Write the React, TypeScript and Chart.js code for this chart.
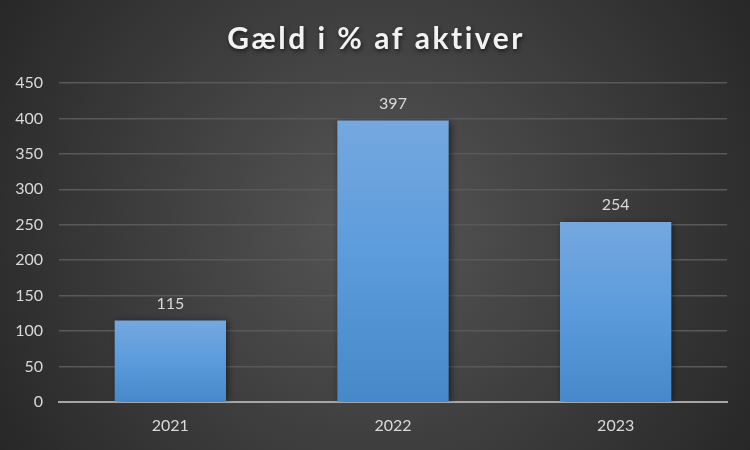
import React, { useEffect, useRef } from "react";
import { Chart, registerables } from "chart.js";

Chart.register(...registerables);

const TITLE = "Gæld i % af aktiver";
const categories = ["2021", "2022", "2023"];
const values = [115, 397, 254];
const yTicks = [0, 50, 100, 150, 200, 250, 300, 350, 400, 450];

const FONT = "Lato, 'Liberation Sans', sans-serif";

const bgPlugin = {
  id: "bg",
  beforeDraw(chart: any) {
    const { ctx, width, height } = chart;
    ctx.save();
    const g = ctx.createRadialGradient(width / 2, height / 2, 0, width / 2, height / 2, width * 0.6);
    g.addColorStop(0, "#565656");
    g.addColorStop(1, "#262626");
    ctx.fillStyle = g;
    ctx.fillRect(0, 0, width, height);
    ctx.restore();
  },
};

const titlePlugin = {
  id: "customTitle",
  afterDraw(chart: any) {
    const { ctx, width } = chart;
    ctx.save();
    ctx.font = `bold 30px ${FONT}`;
    (ctx as any).letterSpacing = "2.5px";
    ctx.fillStyle = "#f2f2f2";
    ctx.textAlign = "center";
    ctx.textBaseline = "middle";
    ctx.shadowColor = "rgba(0,0,0,0.6)";
    ctx.shadowBlur = 4;
    ctx.shadowOffsetX = 1;
    ctx.shadowOffsetY = 2;
    ctx.fillText(TITLE, width / 2 + 1, 39);
    ctx.restore();
  },
};

const shadowPlugin = {
  id: "barShadow",
  beforeDatasetsDraw(chart: any) {
    const ctx = chart.ctx;
    ctx.save();
    ctx.shadowColor = "rgba(0,0,0,0.55)";
    ctx.shadowBlur = 7;
    ctx.shadowOffsetX = 2;
    ctx.shadowOffsetY = 1;
  },
  afterDatasetsDraw(chart: any) {
    chart.ctx.restore();
  },
};

const labelPlugin = {
  id: "valueLabels",
  afterDatasetsDraw(chart: any) {
    const { ctx } = chart;
    const meta = chart.getDatasetMeta(0);
    ctx.save();
    ctx.font = `16px ${FONT}`;
    ctx.fillStyle = "#d9d9d9";
    ctx.textAlign = "center";
    ctx.textBaseline = "bottom";
    meta.data.forEach((el: any, i: number) => {
      ctx.fillText(String(values[i]), el.x, el.y - 9);
    });
    ctx.restore();
  },
};

export default function App() {
  const ref = useRef<HTMLCanvasElement>(null);
  useEffect(() => {
    if (!ref.current) return;
    const chart = new Chart(ref.current, {
      type: "bar",
      data: {
        labels: categories,
        datasets: [
          {
            data: values,
            backgroundColor: (c: any) => {
              const chart = c.chart;
              const ys = chart.scales?.y;
              if (!ys || c.dataIndex === undefined) return "#5b9bd5";
              const top = ys.getPixelForValue(values[c.dataIndex]);
              const bot = ys.getPixelForValue(0);
              if (!isFinite(top) || !isFinite(bot) || top === bot) return "#5b9bd5";
              const g = chart.ctx.createLinearGradient(0, top, 0, bot);
              g.addColorStop(0, "#74a8df");
              g.addColorStop(0.5, "#5b9bdc");
              g.addColorStop(1, "#4788c8");
              return g;
            },
            borderWidth: 0,
            barPercentage: 0.5,
            categoryPercentage: 1,
          },
        ],
      },
      options: {
        animation: false,
        responsive: false,
        maintainAspectRatio: false,
        layout: { padding: { top: 83, right: 23, left: 0, bottom: 0 } },
        plugins: {
          legend: { display: false },
          title: { display: false },
          tooltip: { enabled: false },
        },
        scales: {
          x: {
            grid: { display: false, drawTicks: false },
            border: { color: "#a6a6a6", width: 2 },
            ticks: { color: "#d9d9d9", font: { family: FONT, size: 16 }, padding: 14 },
            afterFit: (s: any) => {
              s.height = 48;
            },
          },
          y: {
            min: 0,
            max: 450,
            afterBuildTicks: (s: any) => {
              s.ticks = yTicks.map((v) => ({ value: v }));
            },
            grid: {
              color: (c: any) => (c.tick && c.tick.value === 0 ? "rgba(0,0,0,0)" : "#595959"),
              lineWidth: 1.5,
              drawTicks: false,
            },
            border: { display: false },
            ticks: { color: "#d9d9d9", font: { family: FONT, size: 16 }, padding: 16 },
            afterFit: (s: any) => {
              s.width = 59;
            },
          },
        },
      },
      plugins: [bgPlugin, shadowPlugin, labelPlugin, titlePlugin],
    });
    return () => chart.destroy();
  }, []);
  return (
    <div style={{ position: "fixed", left: 0, top: 0, width: 750, height: 450 }}>
      <canvas ref={ref} width={750} height={450} style={{ display: "block" }} />
    </div>
  );
}
